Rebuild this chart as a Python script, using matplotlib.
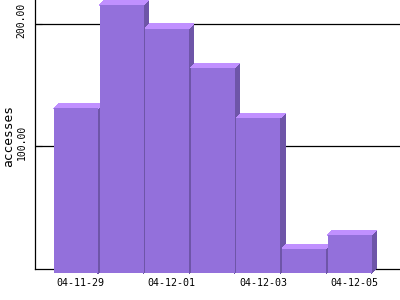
import matplotlib
matplotlib.use("Agg")
import matplotlib.pyplot as plt
from matplotlib.patches import Polygon, Rectangle
from matplotlib.transforms import ScaledTranslation

dates = ["04-11-29", "04-11-30", "04-12-01", "04-12-02", "04-12-03", "04-12-04", "04-12-05"]
accesses = [135, 219, 200, 168, 127, 20, 31]
yticks = [100, 200]
ytick_labels = ["100.00", "200.00"]

FRONT = "#9370DB"
TOP = "#C090FF"
SIDE = "#6E55A8"

fig = plt.figure(figsize=(4, 3), dpi=100)
ax = fig.add_axes([35 / 400, 31.5 / 300, 365 / 400, 268.5 / 300])
ax.set_xlim(-1.0, 7.0)
ax.set_ylim(0, 219.6)

# 3D depth offset, in pixels, converted to data units
depth_px = 4.7
px_per_x = 365 / 8.0
px_per_y = 268.5 / 219.6
ddx = depth_px / px_per_x
ddy = depth_px / px_per_y
w = 0.965

for i, v in enumerate(accesses):
    z = 3 + i
    xl, xr = i - w / 2, i + w / 2
    side = Polygon([(xr - ddx, -ddy), (xr, 0), (xr, v), (xr - ddx, v - ddy)],
                   closed=True, facecolor=SIDE, edgecolor="none", zorder=z,
                   clip_on=False, antialiased=False)
    ax.add_patch(side)
    top = Polygon([(xl - ddx, v - ddy), (xl, v), (xr, v), (xr - ddx, v - ddy)],
                  closed=True, facecolor=TOP, edgecolor="none", zorder=z,
                  clip_on=False, antialiased=False)
    ax.add_patch(top)
    front = Rectangle((xl - ddx, -ddy), w, v, facecolor=FRONT, edgecolor="none",
                      zorder=z, clip_on=False, antialiased=False)
    ax.add_patch(front)

ax.set_xticks(range(0, len(dates), 2))
ax.set_xticklabels(dates[::2], family="DejaVu Sans Mono", fontsize=7.2)
ax.tick_params(axis="x", length=0, pad=6.5)

ax.set_yticks(yticks)
ax.set_yticklabels(ytick_labels, family="DejaVu Sans Mono", fontsize=7,
                   rotation=90, va="center")
ax.tick_params(axis="y", direction="in", length=5, width=0.8, pad=6, color="black")
off = ScaledTranslation(0, 3.5 / 100, fig.dpi_scale_trans)
for lab in ax.get_yticklabels():
    lab.set_transform(lab.get_transform() + off)

ax.yaxis.grid(True, color="black", linewidth=0.9)
ax.set_axisbelow(True)

for s in ["top", "right"]:
    ax.spines[s].set_visible(False)
for s in ["left", "bottom"]:
    ax.spines[s].set_color("black")
    ax.spines[s].set_linewidth(0.9)
    ax.spines[s].set_zorder(1)

ax.set_ylabel("accesses", family="DejaVu Sans Mono", fontsize=9.3)
ax.yaxis.label.set_va("center")
ax.yaxis.set_label_coords(-26 / 365, 0.5 - 2 / 268.5)

fig.savefig("out.png", dpi=100)
